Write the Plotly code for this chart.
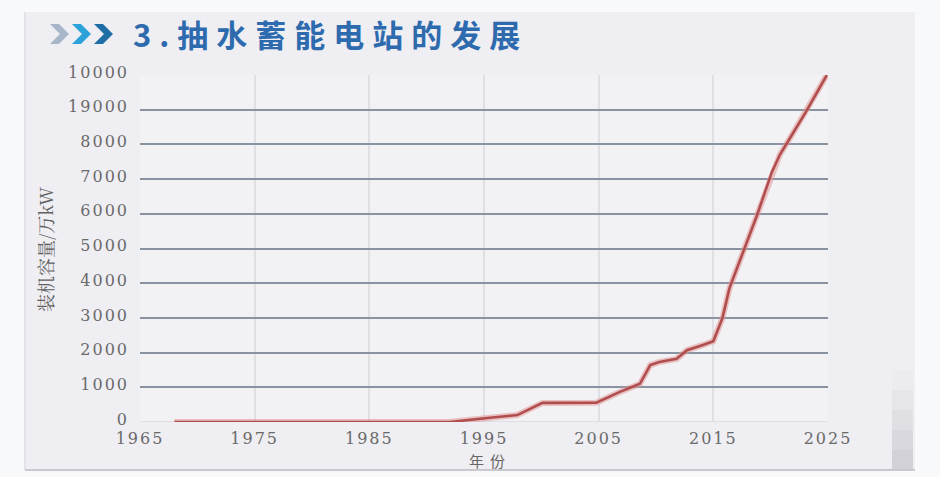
import plotly.graph_objects as go

# ---- data ----
years = [1968, 1992, 1995.3, 1997.9, 2000.1, 2004.8, 2006.8, 2008.6, 2009.5, 2010.3,
         2011.8, 2012.7, 2014.1, 2015.0, 2015.8, 2016.4, 2017.6, 2018.8, 2020.1,
         2020.8, 2021.9, 2023.1, 2024.9]
capacity = [0, 0, 115, 200, 550, 555, 860, 1100, 1640, 1730,
            1820, 2070, 2220, 2330, 3000, 3850, 4900, 5950, 7200,
            7700, 8300, 8950, 10000]
x_ticks = [1965, 1975, 1985, 1995, 2005, 2015, 2025]
y_ticks = [0, 1000, 2000, 3000, 4000, 5000, 6000, 7000, 8000, 9000, 10000]
y_tick_labels = ["0", "1000", "2000", "3000", "4000", "5000", "6000", "7000", "8000", "19000", "10000"]
title_text = "3.抽水蓄能电站的发展"
x_title = "年份"
y_title = "装机容量/万kW"

W, H = 940, 477
L, R, T, B = 140, 828, 75, 422  # plot area in pixels


def px(x):
    return (x - L) / (R - L)


def py(y):
    return (B - y) / (B - T)


def spaced(s, sp):
    return f'<span style="letter-spacing:{sp}px">{s}</span>'


fig = go.Figure()
# soft halo + line
fig.add_trace(go.Scatter(x=years, y=capacity, mode="lines",
                         line=dict(color="rgba(226,150,150,0.55)", width=6),
                         hoverinfo="skip", showlegend=False))
fig.add_trace(go.Scatter(x=years, y=capacity, mode="lines",
                         line=dict(color="#b04e4e", width=2.6),
                         showlegend=False))

shapes = []
# frame background
shapes.append(dict(type="rect", xref="paper", yref="paper", layer="below",
                   x0=px(25), x1=px(915), y0=py(470), y1=py(12),
                   fillcolor="#efeef2", line=dict(width=0)))
# left border of frame
shapes.append(dict(type="line", xref="paper", yref="paper", layer="below",
                   x0=px(25), x1=px(25), y0=py(470), y1=py(12),
                   line=dict(color="#e2e2e8", width=2)))
# bottom border of frame
shapes.append(dict(type="line", xref="paper", yref="paper", layer="below",
                   x0=px(25), x1=px(915), y0=py(470), y1=py(470),
                   line=dict(color="#c8c8ce", width=2)))
# right-bottom shadow (stepped gradient)
shade_cols = ["#ecebef", "#e6e5ea", "#e0dfe4", "#d9d8de", "#d2d1d7"]
for i, c in enumerate(shade_cols):
    y_top = 370 + i * 20
    shapes.append(dict(type="rect", xref="paper", yref="paper", layer="below",
                       x0=px(892), x1=px(913), y0=py(min(y_top + 20, 469)), y1=py(y_top),
                       fillcolor=c, line=dict(width=0)))
# plot area background
shapes.append(dict(type="rect", xref="paper", yref="paper", layer="below",
                   x0=0, x1=1, y0=0, y1=1,
                   fillcolor="#f2f1f4", line=dict(width=0)))
# soften the zero grid line
shapes.append(dict(type="line", xref="paper", yref="y", layer="between",
                   x0=0, x1=1, y0=0, y1=0,
                   line=dict(color="#dddde3", width=2)))

# chevrons in title
chev_cols = ["#a7b6c9", "#2ba2da", "#1f6ea6"]
for i, c in enumerate(chev_cols):
    x0 = 50 + 22 * i
    pts = [(x0, 24), (x0 + 9, 24), (x0 + 19, 34), (x0 + 9, 44), (x0, 44), (x0 + 10, 34)]
    path = "M " + " L ".join(f"{px(a):.5f},{py(b):.5f}" for a, b in pts) + " Z"
    shapes.append(dict(type="path", xref="paper", yref="paper", path=path,
                       fillcolor=c, line=dict(width=0)))

annotations = [
    dict(text="<b>" + spaced(title_text, 8) + "</b>", xref="paper", yref="paper",
         x=px(131), y=py(34), xanchor="left", yanchor="middle", showarrow=False,
         font=dict(family="Noto Sans CJK SC", size=31, color="#2e6aae")),
    dict(text=spaced(x_title, 6), xref="paper", yref="paper", x=px(490), y=py(460),
         xanchor="center", yanchor="middle", showarrow=False,
         font=dict(family="Noto Sans CJK SC", size=15, color="#666666")),
    dict(text=y_title, xref="paper", yref="paper", x=px(45), y=py(250),
         xanchor="center", yanchor="middle", showarrow=False, textangle=-90,
         font=dict(family="Noto Serif CJK SC, Noto Sans CJK SC", size=18, color="#606060")),
]

fig.update_layout(
    width=W, height=H,
    margin=dict(l=L, r=W - R, t=T, b=H - B),
    paper_bgcolor="#f8f9fb",
    plot_bgcolor="rgba(0,0,0,0)",
    shapes=shapes,
    annotations=annotations,
    xaxis=dict(range=[1965, 2025], tickvals=x_ticks,
               ticktext=[spaced(str(v), 2) for v in x_ticks],
               showgrid=True, gridcolor="#dfdfe5", gridwidth=1.5, zeroline=False,
               showline=False, ticks="", ticklabelstandoff=5,
               tickfont=dict(family="DejaVu Serif", size=16, color="#6a6a6a")),
    yaxis=dict(range=[0, 10000], tickvals=y_ticks,
               ticktext=[spaced(t, 2) for t in y_tick_labels],
               showgrid=True, gridcolor="#8a93a2", gridwidth=2, zeroline=False,
               showline=False, ticks="", ticklabelstandoff=10, ticklabelshift=-3,
               tickfont=dict(family="DejaVu Serif", size=16, color="#6a6a6a")),
)

fig.write_html("out.html")
